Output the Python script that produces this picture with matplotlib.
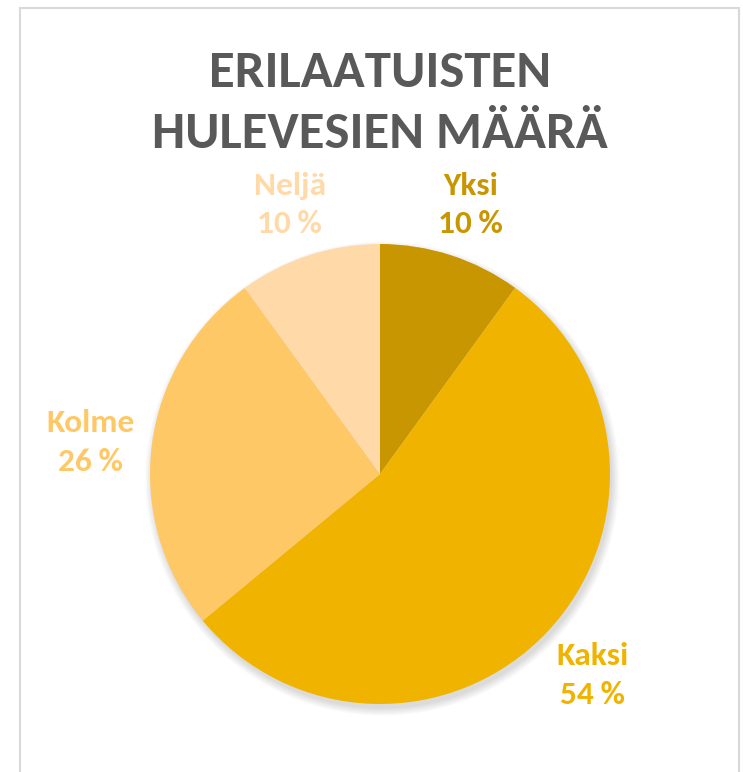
import numpy as np
import matplotlib
matplotlib.use('Agg')
import matplotlib.pyplot as plt
from matplotlib.patches import Rectangle, Circle

# data
categories = ['Yksi', 'Kaksi', 'Kolme', 'Neljä']
values = [10, 54, 26, 10]
colors = ['#C89600', '#F0B400', '#FFC867', '#FFDAA8']
title = 'ERILAATUISTEN\nHULEVESIEN MÄÄRÄ'

plt.rcParams['font.family'] = ['Carlito', 'DejaVu Sans']

W, H = 743, 772
fig = plt.figure(figsize=(W / 100, H / 100), dpi=100)

# frame around chart area
fig.patches.append(Rectangle((20 / W, -0.05), (739 - 20) / W, 1.05 - 8 / H,
                             transform=fig.transFigure, fill=False,
                             edgecolor='#D9D9D9', linewidth=1.5))

# pie axes: centre (380, 474) px, radius 230 px
cx, cy, r = 380, 474, 230
ax = fig.add_axes([0, 0, 1, 1])

# soft shadow
for i in range(6):
    ax.add_patch(Circle((0.01, -0.02), 1.0 + i * 0.006, color='black',
                        alpha=0.025, zorder=0, linewidth=0))

wedges, _ = ax.pie(values, colors=colors, startangle=90, counterclock=False,
                   wedgeprops=dict(linewidth=0))
for w in wedges:
    w.set_zorder(2)

ax.set_aspect('auto')
ax.set_xlim(-cx / r, (W - cx) / r)
ax.set_ylim(-(H - cy) / r, cy / r)
ax.axis('off')

# labels along mid angle
for w, name, v, c in zip(wedges, categories, values, colors):
    ang = np.deg2rad((w.theta1 + w.theta2) / 2)
    ax.text(1.27 * np.cos(ang), 1.25 * np.sin(ang) - 0.02, f'{name}\n{v}\u2009%',
            ha='center', va='center', color=c, fontsize=24, fontweight='bold',
            linespacing=1.45)

fig.text(380 / W, 1 - 103 / H, title, ha='center', va='center', color='#595959',
         fontsize=38, fontweight='bold', linespacing=1.45)

fig.savefig('out.png', dpi=100)
